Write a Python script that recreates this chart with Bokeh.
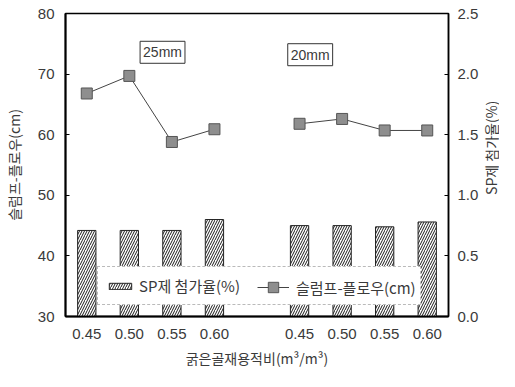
import math
from bokeh.plotting import figure
from bokeh.layouts import row
from bokeh.models import (Range1d, LinearAxis, FixedTicker, PrintfTickFormatter,
                          Legend, LegendItem, Label)
from bokeh.embed import file_html
from bokeh.resources import INLINE

# ---- data ----
ratios = ["0.45", "0.50", "0.55", "0.60"]
groups = ["25mm", "20mm"]
sp_25 = [0.71, 0.71, 0.71, 0.80]      # SP제 첨가율(%)
sp_20 = [0.75, 0.75, 0.74, 0.78]
flow_25 = [66.8, 69.7, 58.8, 60.9]    # 슬럼프-플로우(cm)
flow_20 = [61.8, 62.6, 60.7, 60.7]
left_ticks = [30, 40, 50, 60, 70, 80]
right_ticks = [0.0, 0.5, 1.0, 1.5, 2.0, 2.5]

KR = "Noto Sans CJK KR"
NUM = "Liberation Sans"
TXT = "#3a3a3a"

H = 371
W_MAIN, W_LAB = 481, 18
BL, BR, BT, BB = 61, 31, 13, 55
FH = H - BT - BB

n = len(ratios)
x25 = [i for i in range(n)]
x20 = [i + n + 1 for i in range(n)]

p = figure(width=W_MAIN, height=H, output_backend="svg", toolbar_location=None,
           x_range=Range1d(-0.5, 2 * n + 0.5), y_range=Range1d(30, 80),
           min_border_left=BL, min_border_right=BR, min_border_top=BT,
           min_border_bottom=BB)
p.extra_y_ranges = {"sp": Range1d(0, 2.5)}
p.grid.visible = False
p.outline_line_color = "black"
p.outline_line_width = 1.5
p.background_fill_color = "white"
p.border_fill_color = "white"

# bars
bar_kw = dict(width=0.43, fill_color="white", line_color="#222222", line_width=1,
              hatch_pattern="/", hatch_color="#1a1a1a", hatch_scale=5,
              hatch_weight=1, y_range_name="sp")
b1 = p.vbar(x=x25, top=sp_25, bottom=0, **bar_kw)
b2 = p.vbar(x=x20, top=sp_20, bottom=0, **bar_kw)

# lines + markers
l1 = p.line(x25, flow_25, line_color="#444444", line_width=1)
l2 = p.line(x20, flow_20, line_color="#444444", line_width=1)
mk = dict(marker="square", size=11, fill_color="#8e8e8e", line_color="#555555",
          line_width=1)
s1 = p.scatter(x25, flow_25, **mk)
s2 = p.scatter(x20, flow_20, **mk)

# axes
xa = p.xaxis[0]
xa.ticker = FixedTicker(ticks=x25 + x20)
xa.major_label_overrides = {x: ratios[i % n] for i, x in enumerate(x25 + x20)}
xa.major_tick_in = 0
xa.major_tick_out = 0
xa.minor_tick_line_color = None
xa.axis_line_width = 2
xa.major_label_standoff = 12
xa.major_label_text_font = NUM
xa.major_label_text_font_size = "15px"
xa.major_label_text_color = TXT
xa.axis_label = "굵은골재용적비(m³/m³)"
xa.axis_label_text_font = KR
xa.axis_label_text_font_size = "14px"
xa.axis_label_text_font_style = "normal"
xa.axis_label_text_color = TXT
xa.axis_label_standoff = 6

ya = p.yaxis[0]
ya.ticker = FixedTicker(ticks=left_ticks)
ya.major_tick_in = 4
ya.major_tick_out = 0
ya.minor_tick_line_color = None
ya.axis_line_width = 2
ya.major_label_standoff = 11
ya.major_label_text_font = NUM
ya.major_label_text_font_size = "15px"
ya.major_label_text_color = TXT
ya.axis_label = "슬럼프-플로우(cm)"
ya.axis_label_text_font = KR
ya.axis_label_text_font_size = "14px"
ya.axis_label_text_font_style = "normal"
ya.axis_label_text_color = TXT
ya.axis_label_standoff = 11

ra = LinearAxis(y_range_name="sp", ticker=FixedTicker(ticks=right_ticks),
                formatter=PrintfTickFormatter(format="%.1f"))
ra.major_tick_in = 4
ra.major_tick_out = 0
ra.minor_tick_line_color = None
ra.axis_line_width = 1.5
ra.major_label_standoff = 9
ra.major_label_text_font = NUM
ra.major_label_text_font_size = "15px"
ra.major_label_text_color = TXT
p.add_layout(ra, "right")

# group labels
for txt, gx, gy in [(groups[0], 1.78, 73.6), (groups[1], 5.25, 73.2)]:
    p.add_layout(Label(x=gx, y=gy, text=txt, text_align="center",
                       text_baseline="middle", text_font=NUM,
                       text_font_size="14px", text_color=TXT,
                       border_line_color="#333333", border_line_width=1,
                       background_fill_color="white", padding=3))

# legends
leg1 = Legend(items=[LegendItem(label="SP제 첨가율(%)", renderers=[b1])],
              location=(32, 11), orientation="horizontal",
              glyph_width=28, glyph_height=8, label_standoff=5,
              label_width=273, label_height=20, padding=8, margin=0,
              label_text_font=KR, label_text_font_size="15px",
              label_text_color=TXT, border_line_color="#777777",
              border_line_width=1, border_line_dash="dotted",
              background_fill_color="white", background_fill_alpha=1.0)
leg2 = Legend(items=[LegendItem(label="슬럼프-플로우(cm)", renderers=[l1, s1])],
              location=(192, 16), orientation="horizontal",
              glyph_width=32, glyph_height=26, label_standoff=7,
              padding=0, margin=0, label_text_font=KR,
              label_text_font_size="15px", label_text_color=TXT,
              border_line_color=None, background_fill_alpha=0.0)
p.add_layout(leg1, "center")
p.add_layout(leg2, "center")

# right-hand axis title in a narrow strip, reading bottom-to-top
lab = figure(width=W_LAB, height=H, output_backend="svg", toolbar_location=None,
             x_range=Range1d(0, 1), y_range=Range1d(0, H), min_border=0,
             x_axis_location=None, y_axis_location=None)
lab.grid.visible = False
lab.outline_line_color = None
lab.background_fill_color = "white"
lab.border_fill_color = "white"
lab.add_layout(Label(x=0.5, y=H - (BT + FH / 2), text="SP제 첨가율(%)",
                     angle=math.pi / 2, text_align="center",
                     text_baseline="middle", text_font=KR,
                     text_font_size="14px", text_color=TXT))

layout = row(p, lab, spacing=0)
open("out.html", "w").write(file_html(layout, INLINE))
